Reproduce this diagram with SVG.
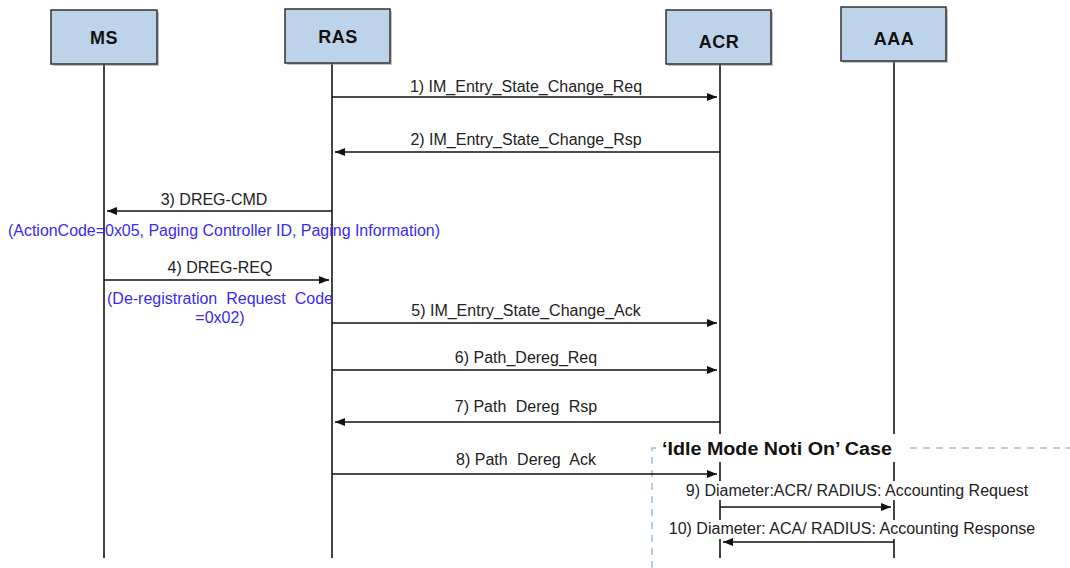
<svg xmlns="http://www.w3.org/2000/svg" width="1070" height="568" viewBox="0 0 1070 568">
<style>
.box{fill:#bdd3ea;stroke:#333;stroke-width:1.5}
.shadow{fill:#888;opacity:0.5}
.ent{font-family:"Liberation Sans",Arial,sans-serif;font-size:18px;font-weight:bold;fill:#111;text-anchor:middle;letter-spacing:0.5px}
.life{stroke:#444;stroke-width:2;fill:none}
.msg{stroke:#111;stroke-width:1.6;fill:none;marker-end:url(#ah)}
.lbl{font-family:"Liberation Sans",Arial,sans-serif;font-size:16px;fill:#222;text-anchor:middle}
.blue{font-family:"Liberation Sans",Arial,sans-serif;font-size:16px;fill:#3a2bf0}
.bg{fill:#fff}
.dash{stroke:#9dbde0;stroke-width:1.5;stroke-dasharray:7,6;fill:none}
.title{font-family:"Liberation Sans",Arial,sans-serif;font-size:18px;font-weight:bold;fill:#111}
</style>
<defs>
<marker id="ah" viewBox="0 0 10 8" refX="10" refY="4" markerWidth="10" markerHeight="8" markerUnits="userSpaceOnUse" orient="auto">
<path d="M0,0 L10,4 L0,8 z" fill="#111"/>
</marker>
</defs>
<rect width="1070" height="568" fill="#fff"/>

<g id="lifelines">
<line class="life" x1="104" y1="64" x2="104" y2="558"/>
<line class="life" x1="332" y1="63" x2="332" y2="558"/>
<line class="life" x1="720" y1="64" x2="720" y2="558"/>
<line class="life" x1="894" y1="61" x2="894" y2="558"/>
</g>

<g id="MS">
<rect class="shadow" x="53" y="12" width="106" height="54"/>
<rect class="box" x="51" y="10" width="106" height="54"/>
<text class="ent" x="104" y="44">MS</text>
</g>
<g id="RAS">
<rect class="shadow" x="287" y="11" width="105" height="54"/>
<rect class="box" x="285" y="9" width="105" height="54"/>
<text class="ent" x="338" y="43">RAS</text>
</g>
<g id="ACR">
<rect class="shadow" x="668" y="12" width="105" height="54"/>
<rect class="box" x="666" y="10" width="105" height="54"/>
<text class="ent" x="719" y="48">ACR</text>
</g>
<g id="AAA">
<rect class="shadow" x="843" y="9" width="105" height="54"/>
<rect class="box" x="841" y="7" width="105" height="54"/>
<text class="ent" x="894" y="45">AAA</text>
</g>

<g id="case-frame">
<path class="dash" d="M652,568 L652,448 L657,448"/>
<line class="dash" x1="910" y1="448" x2="1070" y2="448"/>
<rect class="bg" x="658" y="434" width="240" height="28"/>
<text class="title" x="662" y="455" textLength="230" lengthAdjust="spacingAndGlyphs">‘Idle Mode Noti On’ Case</text>
</g>

<g id="connectors">
<line class="msg" x1="332" y1="97" x2="717" y2="97"/>
<text class="lbl" x="526" y="92">1) IM_Entry_State_Change_Req</text>

<line class="msg" x1="720" y1="152" x2="335" y2="152"/>
<text class="lbl" x="526" y="145">2) IM_Entry_State_Change_Rsp</text>

<line class="msg" x1="332" y1="211" x2="107" y2="211"/>
<text class="lbl" x="214" y="205">3) DREG-CMD</text>
<text class="blue" x="8" y="236" textLength="432" lengthAdjust="spacingAndGlyphs">(ActionCode=0x05, Paging Controller ID, Paging Information)</text>

<line class="msg" x1="104" y1="280" x2="329" y2="280"/>
<text class="lbl" x="220" y="273">4) DREG-REQ</text>
<text class="blue" x="107" y="304" word-spacing="4.5">(De-registration Request Code</text>
<text class="blue" x="220" y="323" text-anchor="middle">=0x02)</text>

<line class="msg" x1="332" y1="323" x2="717" y2="323"/>
<text class="lbl" x="526" y="316">5) IM_Entry_State_Change_Ack</text>

<line class="msg" x1="332" y1="370" x2="717" y2="370"/>
<text class="lbl" x="526" y="363">6) Path_Dereg_Req</text>

<line class="msg" x1="720" y1="422" x2="335" y2="422"/>
<text class="lbl" x="526" y="412">7) <tspan word-spacing="5">Path Dereg Rsp</tspan></text>

<line class="msg" x1="332" y1="474" x2="717" y2="474"/>
<text class="lbl" x="526" y="465">8) <tspan word-spacing="5">Path Dereg Ack</tspan></text>

<rect class="bg" x="683" y="481" width="348" height="19"/>
<text class="lbl" x="857" y="496">9) Diameter:ACR/ RADIUS: Accounting Request</text>
<line class="msg" x1="720" y1="507" x2="891" y2="507"/>

<rect class="bg" x="667" y="520" width="370" height="19"/>
<text class="lbl" x="852" y="534">10) Diameter: ACA/ RADIUS: Accounting Response</text>
<line class="msg" x1="894" y1="542" x2="723" y2="542"/>
</g>
</svg>
